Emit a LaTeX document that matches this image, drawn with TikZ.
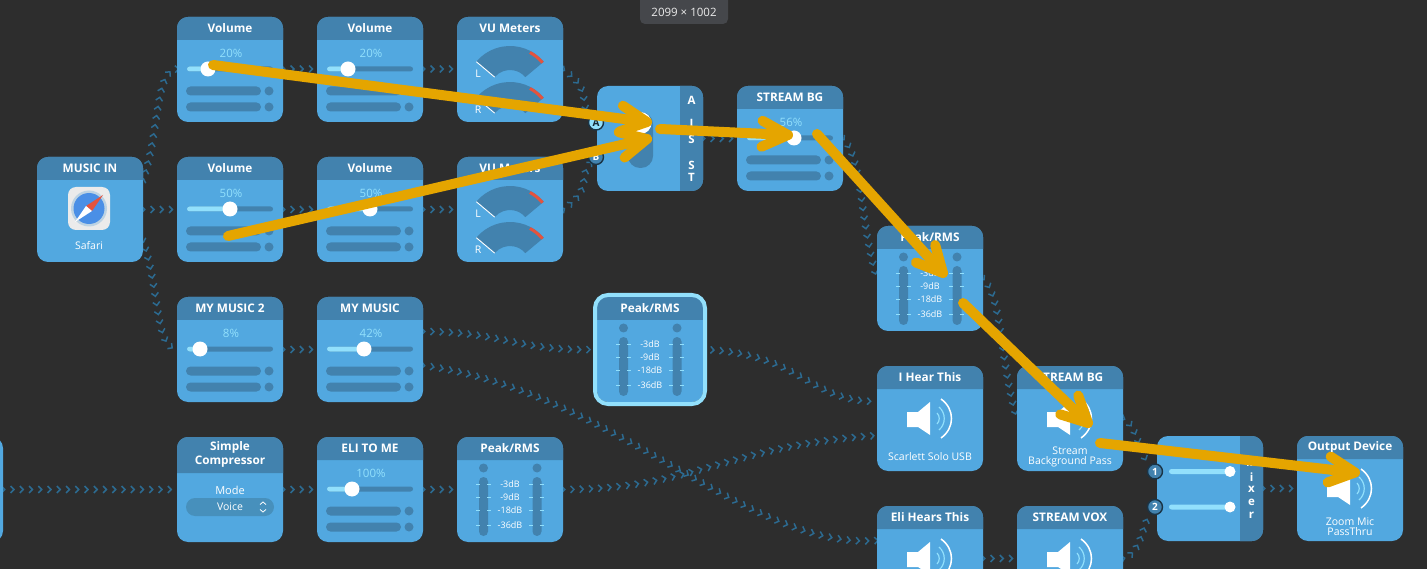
\documentclass[tikz,border=0pt]{standalone}
\usepackage{fontspec}
\setmainfont{Open Sans}
\usetikzlibrary{decorations.markings}
\definecolor{bgc}{HTML}{2D2D2D}
\definecolor{bodyc}{HTML}{52A8E0}
\definecolor{hdrc}{HTML}{4282AE}
\definecolor{lightc}{HTML}{92E0FC}
\definecolor{chevc}{HTML}{2C6A90}
\definecolor{orangec}{HTML}{E5A500}
\definecolor{redc}{HTML}{E5533D}
\definecolor{pillc}{HTML}{4790BC}
\definecolor{safc}{HTML}{4A8FE6}
\definecolor{tipc}{HTML}{45474B}
\pgfdeclarelayer{bgl}\pgfdeclarelayer{back}\pgfsetlayers{bgl,back,main}
\tikzset{
  x=1pt,y=-1pt,
  cardbody/.style={fill=bodyc,rounded corners=11pt,minimum width=106pt,minimum height=105pt,inner sep=0pt,outer sep=0pt},
  cardtitle/.style={text=white,font=\fontsize{11.8}{13}\selectfont\bfseries,inner sep=0pt,align=center},
  small/.style={text=white,font=\fontsize{10.5}{11.5}\selectfont,inner sep=0pt,align=center},
  tiny/.style={text=white,font=\fontsize{9}{10}\selectfont,inner sep=0pt},
  pct/.style={text=lightc,font=\fontsize{11.5}{12}\selectfont,inner sep=0pt},
  stripl/.style={text=white,font=\fontsize{11.5}{13}\selectfont\bfseries,inner sep=0pt},
  wire/.style={postaction={decorate},decoration={markings,
    mark=between positions 0 and 1 step 9.25pt with {\draw[chevc,line width=1.5pt,line join=miter] (-1.7pt,3.5pt)--(1.7pt,0pt)--(-1.7pt,-3.5pt);}}},
  orangehead/.style={orangec,line width=10pt,line cap=round,line join=round},
  orangearrow/.style={orangec,line width=10pt,line cap=round,postaction={decorate},decoration={markings,
    mark=at position 1 with {\draw[orangehead] (-26pt,13pt)--(0pt,0pt)--(-26pt,-13pt);}}},
  badge/.style={circle,draw=black!60!hdrc,line width=1.4pt,minimum size=15pt,inner sep=0pt,font=\fontsize{10}{10}\selectfont\bfseries}
}
\newcommand\cardbase[5]{% name,x,y,title,header height
  \node[cardbody] (#1) at (#2+53,#3+52.5) {};
  \fill[hdrc] (#2,#3+#5) [rounded corners=11pt] -- (#2,#3) -- (#2+106,#3) [sharp corners] -- (#2+106,#3+#5) -- cycle;
  \node[cardtitle] (#1-t) at (#2+53,#3+#5/2-.5) {#4};
}
\newcommand\sliderbars[1]{% knob position, in a scope
  \fill[hdrc,rounded corners=2.5pt] (10,49.5) rectangle (96,54.5);
  \fill[lightc,rounded corners=2.5pt] (10,49.5) rectangle (#1,54.5);
  \fill[hdrc,rounded corners=4.5pt] (9,69.5) rectangle (84,78.5);
  \fill[hdrc,rounded corners=4.5pt] (9,85.5) rectangle (84,94.5);
  \fill[hdrc] (92,74) circle (4.5pt);
  \fill[hdrc] (92,90) circle (4.5pt);
  \fill[white] (#1,52) circle (7.5pt);
}
\newcommand\volcard[6]{% name,x,y,title,pct,knob
  \cardbase{#1}{#2}{#3}{#4}{23}
  \begin{scope}[shift={(#2,#3)}]
    \node[pct] (#1-p) at (54,36) {#5};
    \sliderbars{#6}
  \end{scope}
}
\newcommand\vumeter[3]{% name,letter,y centre
  \begin{scope}[shift={(53,#3)},y=1pt]
    \fill[hdrc] (40:44) arc[start angle=40,end angle=140,radius=44] -- (140:20) arc[start angle=140,end angle=40,radius=20] -- cycle;
    \draw[redc,line width=3pt] (40:42.5) arc[start angle=40,end angle=62,radius=42.5];
    \draw[white,line width=.9pt] (140:44) -- (140:20);
  \end{scope}
  \node[small] (#1) at (21,#3-16) {#2};
}
\newcommand\vucard[4]{% name,x,y,title
  \cardbase{#1}{#2}{#3}{#4}{23}
  \begin{scope}[shift={(#2,#3)}]
    \vumeter{#1-l}{L}{73}
    \vumeter{#1-r}{R}{109}
  \end{scope}
}
\newcommand\dbl[4]{% name,y,text,dummy
  \draw[lightc,line width=.7pt] (19,#2)--(23,#2) (30,#2)--(34,#2) (72,#2)--(76,#2) (83,#2)--(87,#2);
  \node[tiny] (#1) at (53,#2) {#3};
}
\newcommand\peakcard[3]{% name,x,y
  \cardbase{#1}{#2}{#3}{Peak/RMS}{23}
  \begin{scope}[shift={(#2,#3)}]
    \fill[hdrc] (26.5,31) circle (4.5pt) (80,31) circle (4.5pt);
    \fill[hdrc,rounded corners=4.5pt] (22,40) rectangle (31,99);
    \fill[hdrc,rounded corners=4.5pt] (75.5,40) rectangle (84.5,99);
    \dbl{#1-a}{47}{-3dB}{}
    \dbl{#1-b}{60}{-9dB}{}
    \dbl{#1-c}{73}{-18dB}{}
    \dbl{#1-d}{88}{-36dB}{}
  \end{scope}
}
\newcommand\speaker{% in a scope
  \fill[white] (30,46) -- (41,46) -- (53,36) -- (53,69) -- (41,61) -- (30,61) -- cycle;
  \draw[white,line width=1.5pt] (64,33) .. controls (78,43) and (78,62) .. (64,72);
  \draw[lightc,line width=1.2pt] (62,41) .. controls (69,47) and (69,58) .. (62,64);
  \draw[lightc,line width=1.2pt] (60,47) .. controls (63,50) and (63,55) .. (60,58);
}
\newcommand\spkcard[5]{% name,x,y,title,label
  \cardbase{#1}{#2}{#3}{#4}{23}
  \begin{scope}[shift={(#2,#3)}]
    \speaker
    \node[small] (#1-l) at (53,90.5) {#5};
  \end{scope}
}
\begin{document}
\begin{tikzpicture}
\useasboundingbox (0,0) rectangle (1427,569);
\begin{pgfonlayer}{bgl}
\fill[bgc] (0,0) rectangle (1427,569);
\end{pgfonlayer}
\clip (0,0) rectangle (1427,569);
% ---- cards
\cardbase{music}{37}{157}{MUSIC IN}{23}
\begin{scope}[shift={(37,157)}]
  \fill[white!92!black,rounded corners=8pt] (31,30) rectangle (73,73);
  \fill[white!65!hdrc] (52,51.5) circle (18pt);
  \fill[safc] (52,51.5) circle (15.5pt);
  \fill[redc] (49,49) -- (66,38) -- (55,54) -- cycle;
  \fill[white] (49,49) -- (38,65) -- (55,54) -- cycle;
  \node[small] (music-l) at (52,89) {Safari};
\end{scope}
\volcard{v1a}{177}{17}{Volume}{20\%}{31}
\volcard{v1b}{317}{17}{Volume}{20\%}{31}
\vucard{vu1}{457}{17}{VU Meters}
\volcard{v2a}{177}{157}{Volume}{50\%}{53}
\volcard{v2b}{317}{157}{Volume}{50\%}{53}
\vucard{vu2}{457}{157}{VU Meters}
\volcard{m2}{177}{297}{MY MUSIC 2}{8\%}{23}
\volcard{m1}{317}{297}{MY MUSIC}{42\%}{47}
% highlighted peak
\peakcard{pk1}{597}{297}
\draw[lightc,line width=4pt,rounded corners=13pt] (595,295) rectangle (705,404);
% A/B switch
\node[cardbody] (ab) at (650,138.5) {};
\fill[hdrc] (680,86) -- (692,86) [rounded corners=11pt] -- (703,86) -- (703,191) [sharp corners] -- (680,191) -- cycle;
\foreach \n/\t/\yy in {a/A/100,b/I/123,c/S/139,d/S/165,e/T/177}{\node[stripl] (ab-\n) at (691.5,\yy) {\t};}
\fill[hdrc,rounded corners=12pt] (628,112) rectangle (653,168);
\fill[white] (640.5,123) circle (11pt);
\node[badge,fill=lightc,text=black!70!hdrc] (abA) at (596,122.5) {A};
\node[badge,fill=hdrc,text=white] (abB) at (596,157) {B};
\volcard{bg1}{737}{86}{STREAM BG}{56\%}{57}
\peakcard{pk2}{877}{226}
\spkcard{ih}{877}{366}{I Hear This}{Scarlett Solo USB}
\spkcard{bg2}{1017}{366}{STREAM BG}{}
\node[small] (bg2-l2) at (1070,456.5) {Stream\\[-1.5pt]Background Pass};
\spkcard{eli}{877}{506}{Eli Hears This}{}
\spkcard{vox}{1017}{506}{STREAM VOX}{}
% compressor
\cardbase{comp}{177}{437}{Simple\\[1.5pt]Compressor}{36}
\begin{scope}[shift={(177,437)}]
  \node[small,font=\fontsize{11}{12}\selectfont] (comp-m) at (53,53) {Mode};
  \fill[pillc,rounded corners=9pt] (9,61) rectangle (97,79);
  \node[small] (comp-v) at (53,70) {Voice};
  \draw[white,line width=.8pt] (83,67.5)--(86,65)--(89,67.5) (83,72.5)--(86,75)--(89,72.5);
\end{scope}
\volcard{eltm}{317}{437}{ELI TO ME}{100\%}{35}
\peakcard{pk3}{457}{437}
% partial card on the left edge
\node[cardbody] (left) at (-50,489.5) {};
% mixer
\node[cardbody] (mix) at (1210,488.5) {};
\fill[hdrc] (1240,436) -- (1252,436) [rounded corners=11pt] -- (1263,436) -- (1263,541) [sharp corners] -- (1240,541) -- cycle;
\foreach \n/\t/\yy in {a/M/462,b/i/477,c/x/489.5,d/e/502,e/r/515}{\node[stripl] (mix-\n) at (1251.5,\yy) {\t};}
\fill[lightc,rounded corners=2.5pt] (1169,469) rectangle (1230,474);
\fill[lightc,rounded corners=2.5pt] (1169,504.5) rectangle (1230,509.5);
\fill[white] (1230,471.5) circle (5.5pt) (1230,507) circle (5.5pt);
\node[badge,fill=hdrc,text=white] (mix1) at (1155,471.5) {1};
\node[badge,fill=hdrc,text=white] (mix2) at (1155,507) {2};
\spkcard{out}{1297}{436}{Output Device}{}
\node[small] (out-l) at (1350,526.5) {Zoom Mic\\[-1.5pt]PassThru};
% ---- connectors, under the cards
\begin{pgfonlayer}{back}
\path[wire] ([yshift=29pt]music.east) .. controls +(17,-50) and +(-22,1) .. (v1a.west |- 0,69);
\path[wire] (music.east) -- (v2a.west);
\path[wire] ([yshift=-31pt]music.east) .. controls +(17,50) and +(-22,-1) .. (m2.west |- 0,349);
\path[wire] (v1a.east |- 0,69) -- (v1b.west |- 0,69);
\path[wire] (v1b.east |- 0,69) -- (vu1.west |- 0,69);
\path[wire] (v2a.east) -- (v2b.west);
\path[wire] (v2b.east) -- (vu2.west);
\path[wire] (m2.east) -- (m1.west);
\path[wire] (vu1.east) .. controls +(30,20) and +(-18,-20) .. (abA);
\path[wire] (vu2.east) .. controls +(30,-20) and +(-18,20) .. (abB);
\path[wire] (ab.east) -- (bg1.west |- ab.east);
\path[wire] (bg1.east) .. controls +(20,20) and +(-18,-60) .. (pk2.west);
\path[wire] (pk2.east) .. controls +(20,20) and +(-18,-60) .. (bg2.west);
\path[wire] (bg2.east) .. controls +(14,6) and +(-16,-18) .. (mix1);
\path[wire] (vox.east) .. controls +(18,-4) and +(-12,16) .. (mix2);
\path[wire] (mix.east) -- (out.west);
\path[wire] ([yshift=18pt]m1.east) .. controls +(80,0) and +(-80,2) .. (pk1.west);
\path[wire] ([yshift=-16pt]m1.east) .. controls +(190,25) and +(-130,10) .. ([yshift=18pt]eli.west);
\path[wire] (pk1.east) .. controls +(100,4) and +(-70,0) .. ([yshift=17pt]ih.west);
\path[wire] (pk3.east) .. controls +(130,0) and +(-150,10) .. ([yshift=-17pt]ih.west);
\path[wire] (left.east) -- (comp.west);
\path[wire] (comp.east) -- (eltm.west);
\path[wire] (eltm.east) -- (pk3.west);
\path[wire] (eli.east) -- (vox.west);
\end{pgfonlayer}
% ---- tooltip
\fill[tipc,rounded corners=5pt] (640,-6) rectangle (728,24);
\node[text=white!92!black,font=\fontsize{11.5}{12}\selectfont,inner sep=0pt] (size) at (684,12) {2099 × 1002};
% ---- orange annotation arrows
\coordinate (a1s) at (213,65); \coordinate (a1e) at (647,122);
\coordinate (a2s) at (228,236); \coordinate (a2e) at (647,139);
\coordinate (a3s) at (660,129); \coordinate (a3e) at (788,135);
\coordinate (a4s) at (817,134); \coordinate (a4e) at (943,273);
\coordinate (a5s) at (963,303); \coordinate (a5e) at (1088,423);
\coordinate (a6s) at (1100,443); \coordinate (a6e) at (1355,472.5);
\draw[orangearrow] (a1s) -- (a1e);
\draw[orangearrow] (a2s) -- (a2e);
\draw[orangearrow] (a3s) -- (a3e);
\draw[orangearrow] (a4s) -- (a4e);
\draw[orangearrow] (a5s) -- (a5e);
\draw[orangearrow] (a6s) -- (a6e);
\end{tikzpicture}
\end{document}
